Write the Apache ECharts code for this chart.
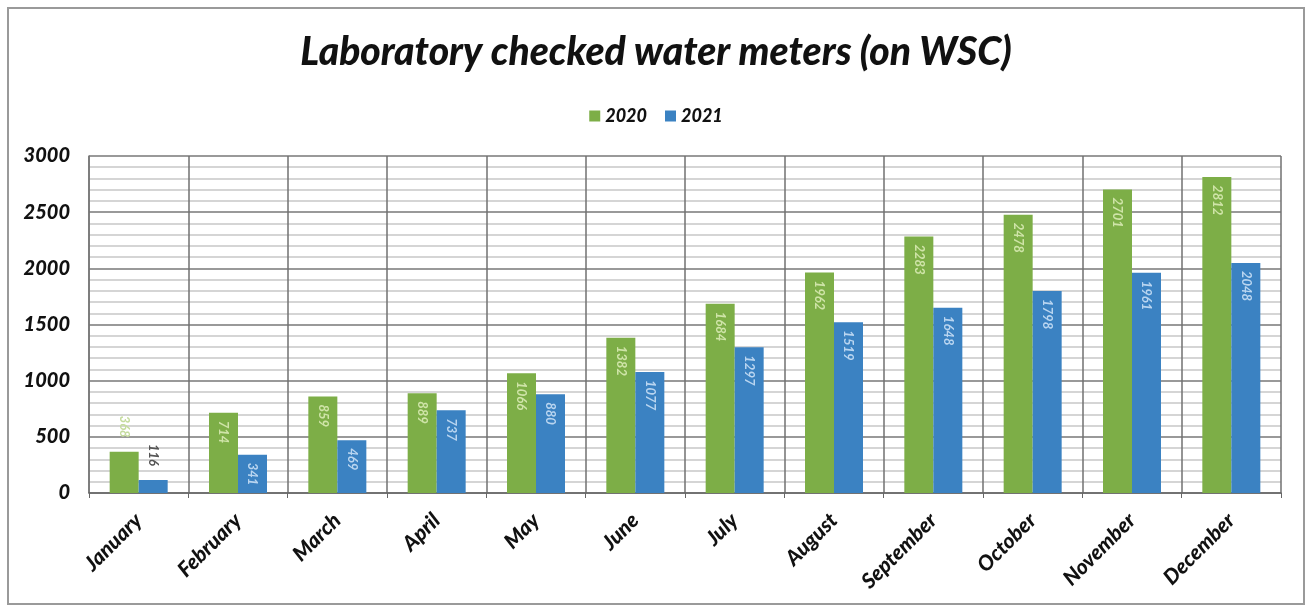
<!DOCTYPE html>
<html>
<head>
<meta charset="utf-8">
<script src="https://cdn.jsdelivr.net/npm/echarts@6/dist/echarts.min.js"></script>
<style>
html,body{margin:0;padding:0;background:#fff;}
#chart{width:1312px;height:609px;}
</style>
</head>
<body>
<div id="chart"></div>
<script>
const categories = ['January','February','March','April','May','June','July','August','September','October','November','December'];
const values2020 = [368, 714, 859, 889, 1066, 1382, 1684, 1962, 2283, 2478, 2701, 2812];
const values2021 = [116, 341, 469, 737, 880, 1077, 1297, 1519, 1648, 1798, 1961, 2048];
const yTicks = [0, 500, 1000, 1500, 2000, 2500, 3000];

const FONT = 'Lato';
const green = '#7dae47';
const blue = '#3b82c2';

function buildData(vals, outsideColor) {
  return vals.map((v, i) => {
    if (i === 0) {
      return {
        value: v,
        label: { position: 'top', align: 'right', verticalAlign: 'middle', distance: 14, color: outsideColor }
      };
    }
    return v;
  });
}

const labelBase = {
  show: true,
  position: 'insideTop',
  rotate: -90,
  align: 'left',
  verticalAlign: 'middle',
  distance: 8,
  fontFamily: FONT,
  fontStyle: 'italic',
  fontWeight: 'bold',
  fontSize: 13
};

const chart = echarts.init(document.getElementById('chart'), null, {renderer: 'canvas'});
chart.setOption({
  animation: false,
  backgroundColor: '#ffffff',
  title: {
    text: 'Laboratory checked water meters (on WSC)',
    left: 'center',
    top: 28,
    textStyle: { fontFamily: FONT, fontSize: 39, fontWeight: 900, fontStyle: 'italic', color: '#111' }
  },
  legend: {
    top: 102,
    left: 'center',
    itemWidth: 11,
    itemHeight: 11,
    itemGap: 18,
    icon: 'rect',
    textStyle: { fontFamily: FONT, fontSize: 18, fontWeight: 900, fontStyle: 'italic', color: '#111' },
    data: ['2020', '2021']
  },
  graphic: [{
    type: 'rect',
    shape: { x: 8, y: 8, width: 1296, height: 596 },
    style: { fill: 'none', stroke: '#9a9a9a', lineWidth: 2 },
    silent: true
  }],
  grid: { left: 89, right: 31, top: 156, bottom: 116 },
  xAxis: {
    type: 'category',
    data: categories,
    axisLine: { show: true, lineStyle: { color: '#666', width: 1.5 } },
    axisTick: { show: true, length: 5, lineStyle: { color: '#666' } },
    splitLine: { show: true, lineStyle: { color: '#707070', width: 1.5 } },
    axisLabel: {
      rotate: 45,
      margin: 24,
      fontFamily: FONT, fontSize: 21, fontWeight: 900, fontStyle: 'italic', color: '#111'
    }
  },
  yAxis: {
    type: 'value',
    min: yTicks[0],
    max: yTicks[yTicks.length - 1],
    interval: 500,
    axisLine: { show: true, lineStyle: { color: '#777', width: 1.5 } },
    axisTick: { show: false },
    splitLine: { show: true, lineStyle: { color: '#777', width: 1.5 } },
    minorTick: { show: false, splitNumber: 5 },
    minorSplitLine: { show: true, lineStyle: { color: '#c8c8c8', width: 1.5 } },
    axisLabel: {
      margin: 19,
      fontFamily: FONT, fontSize: 20, fontWeight: 900, fontStyle: 'italic', color: '#111',
      formatter: v => yTicks.includes(v) ? String(v) : ''
    }
  },
  series: [
    {
      name: '2020',
      type: 'bar',
      data: buildData(values2020, '#c5dc9e'),
      itemStyle: { color: green },
      barWidth: 29,
      barGap: '0%',
      label: Object.assign({}, labelBase, { color: '#cfe4a8' })
    },
    {
      name: '2021',
      type: 'bar',
      data: buildData(values2021, '#555'),
      itemStyle: { color: blue },
      barWidth: 29,
      barGap: '0%',
      label: Object.assign({}, labelBase, { color: '#b9d5f0' })
    }
  ]
});
</script>
</body>
</html>
